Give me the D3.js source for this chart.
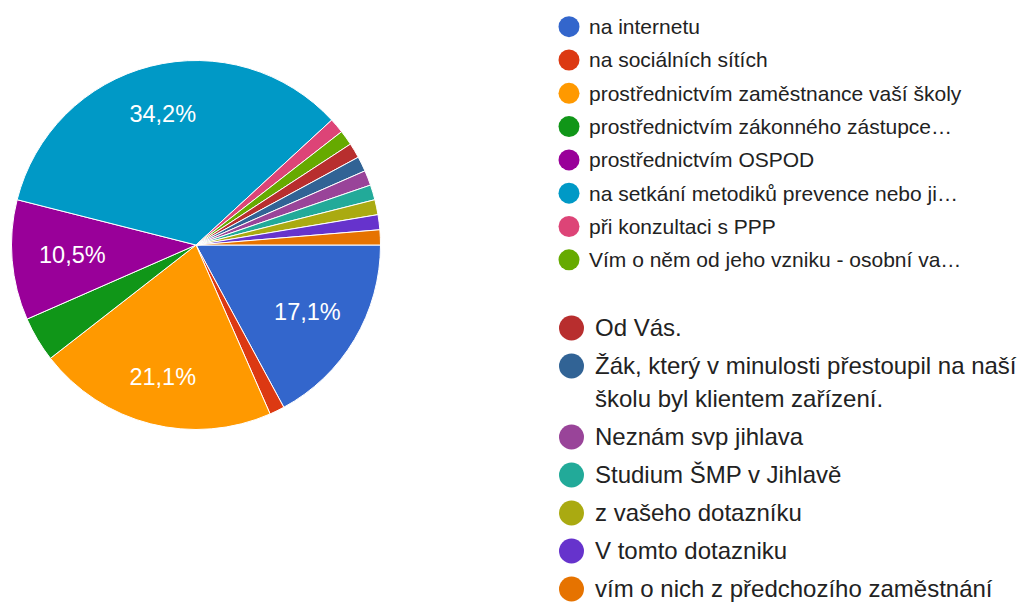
<!DOCTYPE html>
<html>
<head>
<meta charset="utf-8">
<script src="https://cdn.jsdelivr.net/npm/d3@7"></script>
<style>
  html, body { margin: 0; padding: 0; background: #fff; }
  svg { display: block; font-family: Arial, "Liberation Sans", sans-serif; }
</style>
</head>
<body>
<svg id="chart" width="1022" height="604"></svg>
<script>
// ---- data ----
const categories = [
  "na internetu",
  "na sociálních sítích",
  "prostřednictvím zaměstnance vaší školy",
  "prostřednictvím zákonného zástupce…",
  "prostřednictvím OSPOD",
  "na setkání metodiků prevence nebo ji…",
  "při konzultaci s PPP",
  "Vím o něm od jeho vzniku - osobní va…",
  "Od Vás.",
  "Žák, který v minulosti přestoupil na naší|školu byl klientem zařízení.",
  "Neznám svp jihlava",
  "Studium ŠMP v Jihlavě",
  "z vašeho dotazníku",
  "V tomto dotazniku",
  "vím o nich z předchozího zaměstnání"
];
const counts = [13, 1, 16, 3, 8, 26, 1, 1, 1, 1, 1, 1, 1, 1, 1];
const colors = ["#3366cc", "#dc3912", "#ff9900", "#109618", "#990099", "#0099c6",
                "#dd4477", "#66aa00", "#b82e2e", "#316395", "#994499", "#22aa99",
                "#aaaa11", "#6633cc", "#e67300"];
const legendGroup1 = 8; // first 8 entries in the upper legend block

// ---- layout ----
const svg = d3.select("#chart");
const cx = 196, cy = 245, R = 184.5;
const total = d3.sum(counts);

const pie = d3.pie().sort(null).value(d => d)
  .startAngle(Math.PI / 2).endAngle(Math.PI / 2 + 2 * Math.PI);
const arcs = pie(counts);
const arc = d3.arc().innerRadius(0).outerRadius(R);

const g = svg.append("g").attr("transform", `translate(${cx},${cy})`);
g.selectAll("path").data(arcs).join("path")
  .attr("d", arc)
  .attr("fill", (d, i) => colors[i])
  .attr("stroke", "#fff")
  .attr("stroke-width", 1);

const fmt = v => (Math.round(v * 1000) / 10).toFixed(1).replace(".", ",") + "%";
g.selectAll("text.lbl").data(arcs.filter(d => d.value / total >= 0.05)).join("text")
  .attr("class", "lbl")
  .attr("transform", d => {
    const a = (d.startAngle + d.endAngle) / 2;
    const dist = 123 + 13 * Math.abs(Math.cos(a));
    return `translate(${Math.sin(a) * dist},${-Math.cos(a) * dist})`;
  })
  .attr("text-anchor", "middle")
  .attr("dy", "0.35em")
  .attr("fill", "#fff")
  .attr("font-size", 23.5)
  .text(d => fmt(d.value / total));

// ---- legend ----
const leg1 = svg.append("g");
categories.slice(0, legendGroup1).forEach((c, i) => {
  const y = 26.7 + i * 33.3;
  leg1.append("circle").attr("cx", 569).attr("cy", y).attr("r", 10.5).attr("fill", colors[i]);
  leg1.append("text").attr("x", 589).attr("y", y).attr("dy", "0.35em")
    .attr("font-size", 21).attr("fill", "#222").text(c);
});

const leg2 = svg.append("g");
let y2 = 328;
categories.slice(legendGroup1).forEach((c, j) => {
  const i = j + legendGroup1;
  const lines = c.split("|");
  leg2.append("circle").attr("cx", 571.5).attr("cy", y2).attr("r", 12.5).attr("fill", colors[i]);
  const t = leg2.append("text").attr("x", 595).attr("y", y2).attr("dy", "0.35em")
    .attr("font-size", 24).attr("fill", "#222");
  lines.forEach((ln, k) => {
    t.append("tspan").attr("x", 595).attr("dy", k === 0 ? "0.35em" : 33).text(ln);
  });
  t.attr("dy", null);
  y2 += 38 + (lines.length - 1) * 33;
});
</script>
</body>
</html>
